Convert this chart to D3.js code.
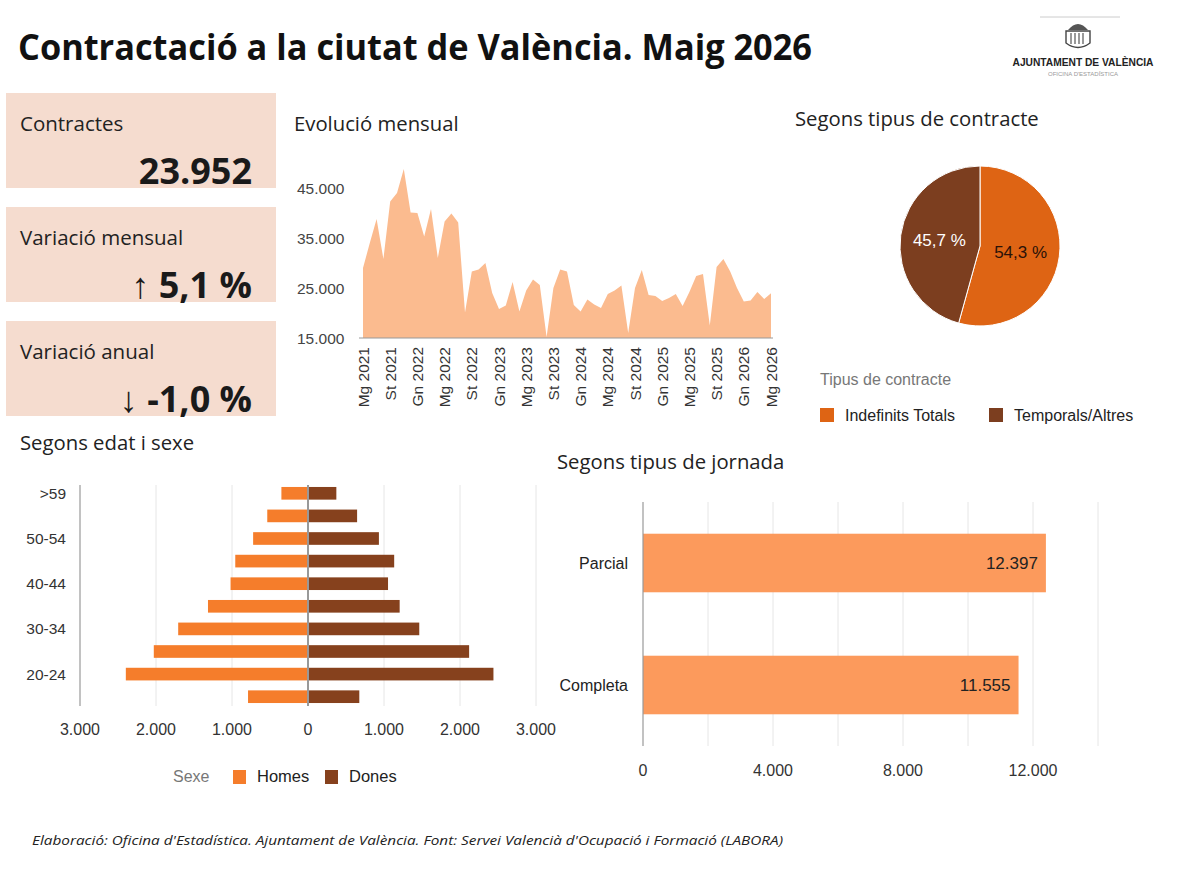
<!DOCTYPE html>
<html>
<head>
<meta charset="utf-8">
<script src="https://cdn.jsdelivr.net/npm/d3@7"></script>
<style>
  html, body { margin: 0; padding: 0; background: #fff; }
  svg { display: block; }
</style>
</head>
<body>
<div id="chart"></div>
<script>
'use strict';

// ── Data ──
var kpiLabels = ['Contractes', 'Variació mensual', 'Variació anual'];
var kpiValues = ['23.952', '\u2191 5,1 %', '\u2193 -1,0 %'];

// monthly contracts, May 2021 .. May 2026
var monthly = [
    29000, 34000, 38800, 30800, 42300, 44000, 48800, 40100, 40000, 35300, 40800, 31000,
    38300, 39900, 38100, 20100, 28300, 28700, 30000, 24000, 20800, 21500, 26200, 20300,
    24500, 26700, 25600, 15200, 25000, 28700, 28300, 21600, 20300, 22700, 21700, 21000,
    23800, 24500, 25500, 16000, 25000, 28600, 23600, 23400, 22400, 23000, 23800, 21400,
    24200, 27400, 27800, 17500, 29200, 30800, 28300, 25000, 22300, 22500, 24200, 22790,
    23952
];
var monthAbbr = ['Gn', 'Fb', 'Mç', 'Ab', 'Mg', 'Jn', 'Jl', 'Ag', 'St', 'Oc', 'Nv', 'Ds'];
var areaTicks = [15000, 25000, 35000, 45000];

var contractTypes = ['Indefinits Totals', 'Temporals/Altres'];
var contractShares = [54.3, 45.7];

var ages = ['>59', '55-59', '50-54', '45-49', '40-44', '35-39', '30-34', '25-29', '20-24', '16-19'];
var homes = [350, 536, 722, 957, 1019, 1316, 1708, 2029, 2397, 789];
var dones = [373, 646, 933, 1134, 1053, 1206, 1464, 2120, 2440, 675];
var sexes = ['Homes', 'Dones'];

var jornadaTypes = ['Parcial', 'Completa'];
var jornadaValues = [12397, 11555];

// ── Setup ──
var W = 1200, H = 872;
var colHomes = '#f57d2b', colDones = '#86411d';
var colIndef = '#de6414', colTemp = '#7c3e1f';
var colArea = '#fbbb8f', colJorn = '#fc9a5c';
var boxBg = '#f5dccf';
var uiFont = "'Open Sans', 'Noto Sans', sans-serif";
var chartFont = "'Liberation Sans', Arial, sans-serif";

var loc = d3.formatLocale({decimal: ',', thousands: '.', grouping: [3], currency: ['', '\u20ac']});
var fmt = loc.format(',d');

var svg = d3.select('#chart').append('svg').attr('width', W).attr('height', H);
svg.append('rect').attr('width', W).attr('height', H).attr('fill', '#fff');

// title
svg.append('text').attr('x', 18).attr('y', 60)
    .attr('font-family', uiFont).attr('font-weight', 700).attr('font-size', 36)
    .attr('textLength', 794).attr('lengthAdjust', 'spacingAndGlyphs')
    .attr('fill', '#111').text('Contractació a la ciutat de València. Maig 2026');

// logo
var logo = svg.append('g');
logo.append('line').attr('x1', 1040).attr('x2', 1120).attr('y1', 17).attr('y2', 17).attr('stroke', '#ccc');
logo.append('path').attr('d', 'M1068,30 Q1078,18 1088,30 Z').attr('fill', '#555');
logo.append('path').attr('d', 'M1066,31 h24 v12 q-12,9 -24,0 Z').attr('fill', 'none').attr('stroke', '#444').attr('stroke-width', 1.4);
[1071, 1075, 1079, 1083].forEach(function(x) {
    logo.append('line').attr('x1', x).attr('x2', x).attr('y1', 33).attr('y2', 44).attr('stroke', '#555').attr('stroke-width', 1.2);
});
logo.append('text').attr('x', 1083).attr('y', 66).attr('text-anchor', 'middle')
    .attr('font-family', chartFont).attr('font-weight', 700).attr('font-size', 10.5)
    .attr('textLength', 141).attr('lengthAdjust', 'spacingAndGlyphs')
    .attr('fill', '#222').text('AJUNTAMENT DE VALÈNCIA');
logo.append('text').attr('x', 1083).attr('y', 76).attr('text-anchor', 'middle')
    .attr('font-family', chartFont).attr('font-size', 6).attr('fill', '#999')
    .text("OFICINA D'ESTADÍSTICA");

// ── KPI boxes ──
var boxTop = [93, 207, 321];
kpiLabels.forEach(function(lab, i) {
    var g = svg.append('g').attr('transform', 'translate(6,' + boxTop[i] + ')');
    g.append('rect').attr('width', 270).attr('height', 95).attr('fill', boxBg);
    g.append('text').attr('x', 14).attr('y', 38).attr('font-family', uiFont).attr('font-size', 20.5)
        .attr('fill', '#222').text(lab);
    g.append('text').attr('x', 246).attr('y', 91).attr('text-anchor', 'end')
        .attr('font-family', uiFont).attr('font-weight', 700).attr('font-size', 36)
        .attr('fill', '#1a1a1a').text(kpiValues[i]);
});

function sectionTitle(x, y, t) {
    svg.append('text').attr('x', x).attr('y', y).attr('font-family', uiFont)
        .attr('font-size', 20.3).attr('fill', '#222').text(t);
}

// ── Evolució mensual ──
sectionTitle(294, 131, 'Evolució mensual');
var xA = d3.scaleLinear().domain([0, monthly.length - 1]).range([363, 771]);
var yA = d3.scaleLinear().domain([15000, 45000]).range([338, 188]);
var area = d3.area().x(function(d, i) { return xA(i); }).y0(yA(15000)).y1(function(d) { return yA(d); });
svg.append('path').datum(monthly).attr('d', area).attr('fill', colArea);
svg.append('line').attr('x1', 359).attr('x2', 773).attr('y1', yA(15000)).attr('y2', yA(15000))
    .attr('stroke', '#999').attr('stroke-width', 1);
svg.selectAll('.ya').data(areaTicks).enter().append('text')
    .attr('x', 297).attr('y', function(d) { return yA(d) + 5.5; })
    .attr('font-family', chartFont).attr('font-size', 15.5).attr('fill', '#444')
    .text(function(d) { return fmt(d); });
var tickIdx = d3.range(0, monthly.length, 4);
svg.selectAll('.xa').data(tickIdx).enter().append('text')
    .attr('transform', function(i) { return 'translate(' + (xA(i) + 5.5) + ',347) rotate(-90)'; })
    .attr('text-anchor', 'end')
    .attr('font-family', chartFont).attr('font-size', 15.5).attr('fill', '#333')
    .text(function(i) {
        var m = (4 + i) % 12, yr = 2021 + Math.floor((4 + i) / 12);
        return monthAbbr[m] + ' ' + yr;
    });

// ── Pie ──
sectionTitle(795, 126, 'Segons tipus de contracte');
var pieG = svg.append('g').attr('transform', 'translate(980,246)');
var pie = d3.pie().sort(null).value(function(d) { return d; });
var arcs = pie(contractShares);
var arc = d3.arc().innerRadius(0).outerRadius(80);
var pieCols = [colIndef, colTemp];
pieG.selectAll('path').data(arcs).enter().append('path')
    .attr('d', arc).attr('fill', function(d, i) { return pieCols[i]; })
    .attr('stroke', '#fff').attr('stroke-width', 1);
var labArc = d3.arc().innerRadius(41).outerRadius(41);
pieG.selectAll('.pl').data(arcs).enter().append('text')
    .attr('transform', function(d) { var c = labArc.centroid(d); return 'translate(' + c[0] + ',' + (c[1] + 6) + ')'; })
    .attr('text-anchor', 'middle').attr('font-family', chartFont).attr('font-size', 17)
    .attr('fill', function(d, i) { return i === 0 ? '#2a1208' : '#fff'; })
    .text(function(d, i) { return d3.format('.1f')(contractShares[i]).replace('.', ',') + ' %'; });

svg.append('text').attr('x', 820).attr('y', 385).attr('font-family', chartFont).attr('font-size', 16)
    .attr('fill', '#777').text('Tipus de contracte');
var legX = [820, 989];
contractTypes.forEach(function(t, i) {
    svg.append('rect').attr('x', legX[i]).attr('y', 408).attr('width', 14).attr('height', 14).attr('fill', pieCols[i]);
    svg.append('text').attr('x', legX[i] + 25).attr('y', 421).attr('font-family', chartFont).attr('font-size', 16)
        .attr('fill', '#222').text(t);
});

// ── Pyramid ──
sectionTitle(20, 450, 'Segons edat i sexe');
var xP = d3.scaleLinear().domain([-3000, 3000]).range([80, 536]);
var yP = d3.scaleBand().domain(ages).range([482, 708]).paddingInner(0.44).paddingOuter(0.22);
var pTicks = [-3000, -2000, -1000, 0, 1000, 2000, 3000];
svg.selectAll('.pg').data(pTicks.filter(function(d) { return d !== 0 && d !== -3000; })).enter().append('line')
    .attr('x1', xP).attr('x2', xP).attr('y1', 485).attr('y2', 706)
    .attr('stroke', '#e6e6e6').attr('stroke-width', 1);
svg.append('line').attr('x1', xP(-3000)).attr('x2', xP(-3000)).attr('y1', 485).attr('y2', 706)
    .attr('stroke', '#999').attr('stroke-width', 1.2);
svg.selectAll('.ph').data(ages).enter().append('rect')
    .attr('x', function(d, i) { return xP(-homes[i]); }).attr('y', function(d) { return yP(d); })
    .attr('width', function(d, i) { return xP(0) - xP(-homes[i]); }).attr('height', yP.bandwidth())
    .attr('fill', colHomes);
svg.selectAll('.pd').data(ages).enter().append('rect')
    .attr('x', xP(0)).attr('y', function(d) { return yP(d); })
    .attr('width', function(d, i) { return xP(dones[i]) - xP(0); }).attr('height', yP.bandwidth())
    .attr('fill', colDones);
svg.append('line').attr('x1', xP(0)).attr('x2', xP(0)).attr('y1', 485).attr('y2', 706)
    .attr('stroke', '#999').attr('stroke-width', 2);
svg.selectAll('.pyl').data(ages.filter(function(d, i) { return i % 2 === 0; })).enter().append('text')
    .attr('x', 66).attr('y', function(d) { return yP(d) + yP.bandwidth() / 2 + 5.5; })
    .attr('text-anchor', 'end').attr('font-family', chartFont).attr('font-size', 15.5).attr('fill', '#333')
    .text(function(d) { return d; });
svg.selectAll('.pxl').data(pTicks).enter().append('text')
    .attr('x', xP).attr('y', 735).attr('text-anchor', 'middle')
    .attr('font-family', chartFont).attr('font-size', 16).attr('fill', '#333')
    .text(function(d) { return fmt(Math.abs(d)); });

svg.append('text').attr('x', 173).attr('y', 782).attr('font-family', chartFont).attr('font-size', 16)
    .attr('fill', '#777').text('Sexe');
var sexX = [233, 325], sexCols = [colHomes, colDones];
sexes.forEach(function(s, i) {
    svg.append('rect').attr('x', sexX[i]).attr('y', 770).attr('width', 13).attr('height', 14).attr('fill', sexCols[i]);
    svg.append('text').attr('x', sexX[i] + 24).attr('y', 782).attr('font-family', chartFont).attr('font-size', 16.5)
        .attr('fill', '#222').text(s);
});

// ── Jornada ──
sectionTitle(557, 469, 'Segons tipus de jornada');
var xJ = d3.scaleLinear().domain([0, 14000]).range([643, 1098]);
var yJ = d3.scaleBand().domain(jornadaTypes).range([502, 746]).paddingInner(0.52).paddingOuter(0.26);
svg.selectAll('.jg').data(d3.range(2000, 14001, 2000)).enter().append('line')
    .attr('x1', xJ).attr('x2', xJ).attr('y1', 502).attr('y2', 746)
    .attr('stroke', '#e6e6e6').attr('stroke-width', 1);
svg.selectAll('.jb').data(jornadaTypes).enter().append('rect')
    .attr('x', xJ(0)).attr('y', function(d) { return yJ(d); })
    .attr('width', function(d, i) { return xJ(jornadaValues[i]) - xJ(0); }).attr('height', yJ.bandwidth())
    .attr('fill', colJorn);
svg.append('line').attr('x1', xJ(0)).attr('x2', xJ(0)).attr('y1', 502).attr('y2', 746)
    .attr('stroke', '#999').attr('stroke-width', 1.2);
svg.selectAll('.jv').data(jornadaTypes).enter().append('text')
    .attr('x', function(d, i) { return xJ(jornadaValues[i]) - 8; })
    .attr('y', function(d) { return yJ(d) + yJ.bandwidth() / 2 + 6; })
    .attr('text-anchor', 'end').attr('font-family', chartFont).attr('font-size', 17).attr('fill', '#222')
    .text(function(d, i) { return fmt(jornadaValues[i]); });
svg.selectAll('.jl').data(jornadaTypes).enter().append('text')
    .attr('x', 628).attr('y', function(d) { return yJ(d) + yJ.bandwidth() / 2 + 5.5; })
    .attr('text-anchor', 'end').attr('font-family', chartFont).attr('font-size', 16).attr('fill', '#222')
    .text(function(d) { return d; });
svg.selectAll('.jx').data([0, 4000, 8000, 12000]).enter().append('text')
    .attr('x', xJ).attr('y', 776).attr('text-anchor', 'middle')
    .attr('font-family', chartFont).attr('font-size', 16).attr('fill', '#333')
    .text(function(d) { return fmt(d); });

// footer
svg.append('text').attr('x', 32).attr('y', 845).attr('font-family', uiFont).attr('font-style', 'italic')
    .attr('font-size', 13.5).attr('textLength', 751).attr('lengthAdjust', 'spacingAndGlyphs')
    .attr('fill', '#222')
    .text("Elaboració: Oficina d'Estadística. Ajuntament de València. Font: Servei Valencià d'Ocupació i Formació (LABORA)");
</script>
</body>
</html>
